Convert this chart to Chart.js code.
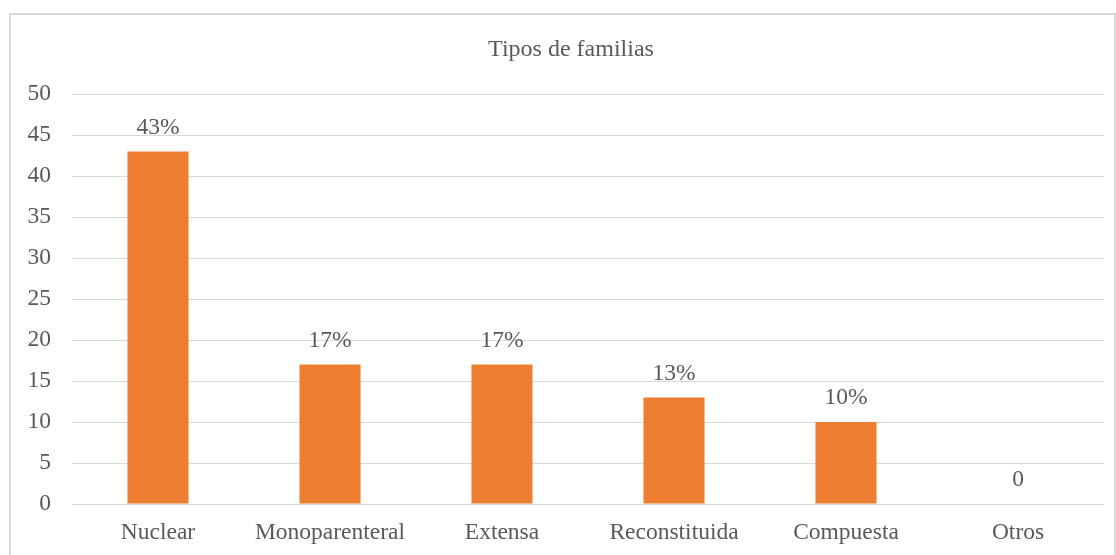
<!DOCTYPE html>
<html>
<head>
<meta charset="utf-8">
<script src="https://cdn.jsdelivr.net/npm/chart.js@4.4.0/dist/chart.umd.min.js"></script>
<style>
  body { margin: 0; background: #fff; overflow: hidden; }
  .frame { position: absolute; left: 9px; top: 13px; width: 1103px; height: 600px; border: 2px solid #d9d9d9; }
  .wrap { position: absolute; left: 0; top: 0; width: 1116px; height: 555px; }
</style>
</head>
<body>
<div class="frame"></div>
<div class="wrap"><canvas id="myChart"></canvas></div>
<script>
// data
let categories = ['Nuclear', 'Monoparenteral', 'Extensa', 'Reconstituida', 'Compuesta', 'Otros'];
let values = [43, 17, 17, 13, 10, 0];
let pctLabels = ['43%', '17%', '17%', '13%', '10%', '0'];
let yTicks = [0, 5, 10, 15, 20, 25, 30, 35, 40, 45, 50];
let chartTitle = 'Tipos de familias';

let textColour = '#595959';
let fontName = "'Liberation Serif', 'Times New Roman', serif";
let fontSize = 23.5;

// title (slightly right of centre, like the original) + percent text above each bar
let barLabels = {
    id: 'barLabels',
    afterDatasetsDraw(chart) {
        let ctx = chart.ctx;
        let meta = chart.getDatasetMeta(0);
        ctx.save();
        ctx.fillStyle = textColour;
        ctx.textAlign = 'center';
        ctx.textBaseline = 'middle';
        ctx.font = '24px ' + fontName;
        ctx.fillText(chartTitle, 571, 50);
        ctx.font = fontSize + 'px ' + fontName;
        meta.data.forEach((bar, i) => {
            ctx.fillText(pctLabels[i], bar.x, bar.y - 24);
        });
        ctx.restore();
    }
};

let myChart = document.getElementById('myChart').getContext('2d');
let familiasChart = new Chart(myChart, {
    type: 'bar',
    data: {
        labels: categories,
        datasets: [{
            label: chartTitle,
            data: values,
            backgroundColor: '#ED7D31',
            barPercentage: 1,
            categoryPercentage: 0.355
        }]
    },
    options: {
        responsive: true,
        maintainAspectRatio: false,
        animation: false,
        layout: { padding: { left: 0, right: 12, top: 94, bottom: 0 } },
        plugins: {
            legend: { display: false },
            tooltip: { enabled: false },
            title: { display: false }
        },
        scales: {
            x: {
                grid: { display: false, drawTicks: false },
                border: { display: false },
                ticks: {
                    color: textColour,
                    font: { family: fontName, size: fontSize },
                    padding: 15,
                    maxRotation: 0
                },
                afterFit: s => { s.height = 51; }
            },
            y: {
                min: 0,
                max: 50,
                afterBuildTicks: s => { s.ticks = yTicks.map(v => ({ value: v })); },
                grid: { color: '#d9d9d9', lineWidth: 1, drawTicks: false },
                border: { display: false },
                ticks: {
                    color: textColour,
                    font: { family: fontName, size: fontSize },
                    padding: 21
                },
                afterFit: s => { s.width = 72; }
            }
        }
    },
    plugins: [barLabels]
});
</script>
</body>
</html>
